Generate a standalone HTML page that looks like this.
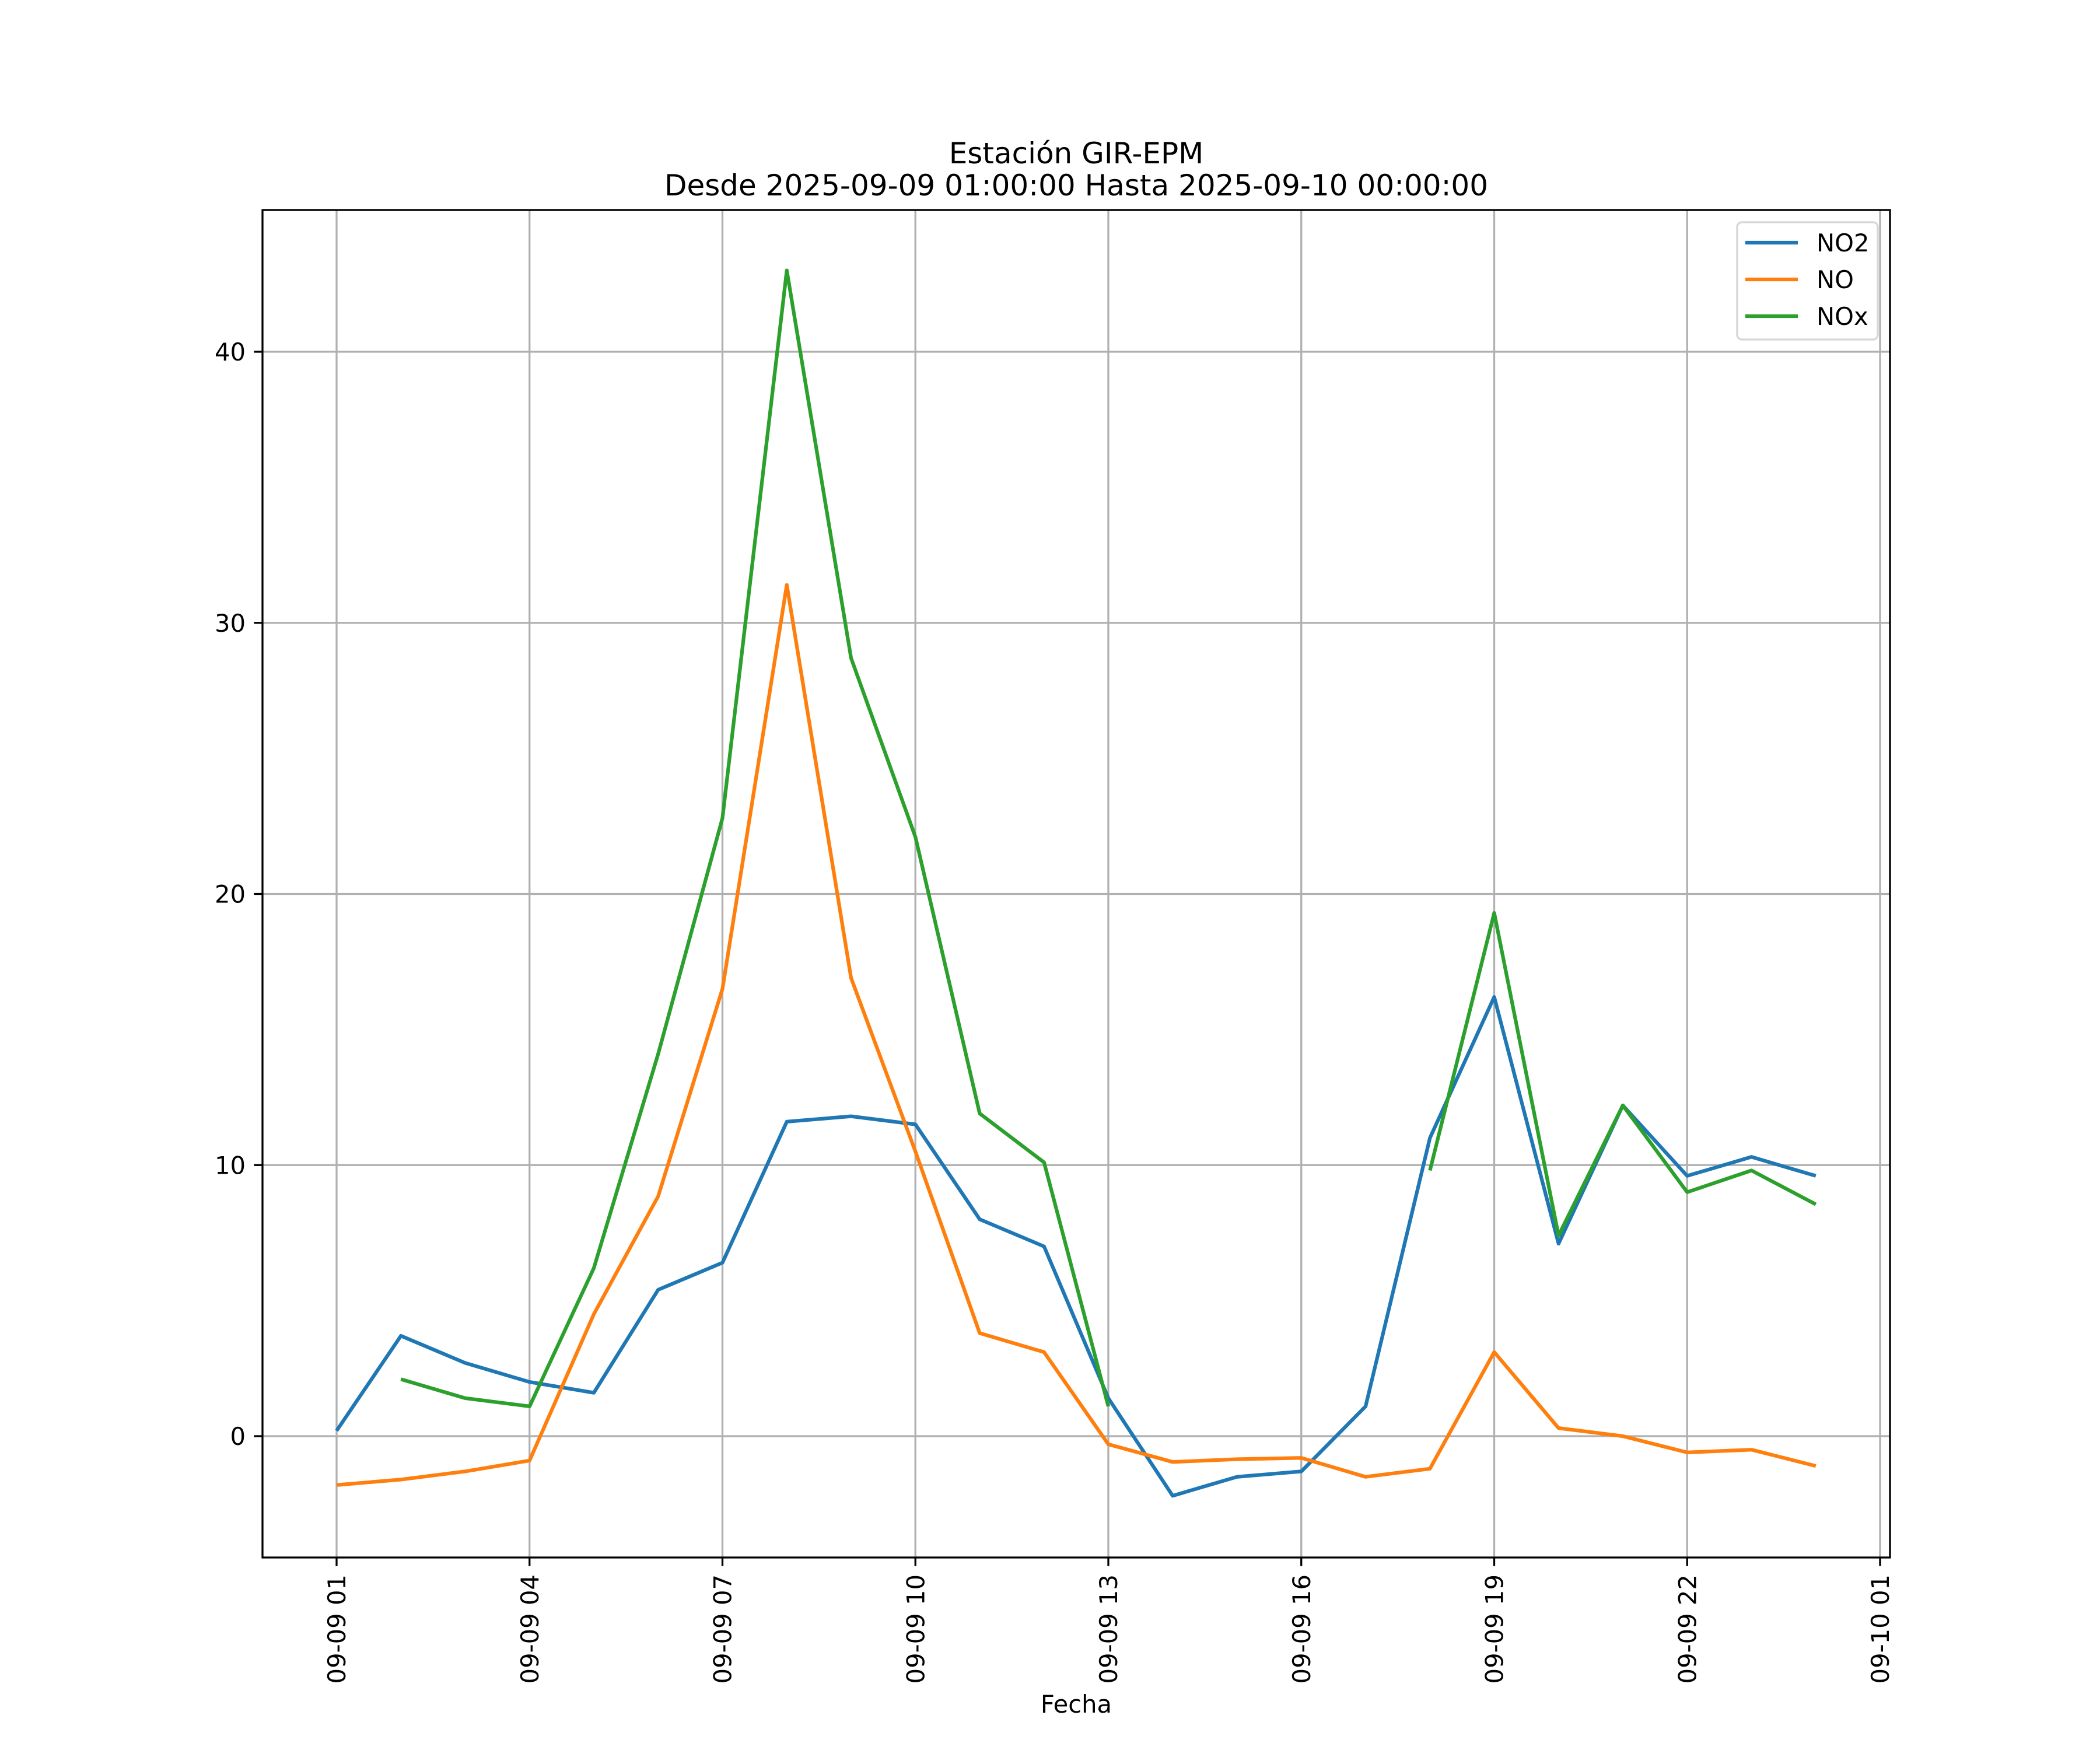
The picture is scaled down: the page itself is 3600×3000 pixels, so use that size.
<!DOCTYPE html>
<html><head><meta charset="utf-8"><style>
html,body{margin:0;padding:0;background:#fff}
svg{display:block}
text{font-family:"DejaVu Sans","Liberation Sans",sans-serif;fill:#000}
</style></head><body>
<svg id="chart" xmlns="http://www.w3.org/2000/svg" width="3600" height="3000" viewBox="0 0 3600 3000">
<rect x="0" y="0" width="3600" height="3000" fill="#fff"/>
<g id="grid"></g>
<g id="series"></g>
<rect x="450" y="360" width="2790" height="2310" fill="none" stroke="#000" stroke-width="3.3"/>
<g id="ticks"></g>
<text x="1845" y="280" font-size="50" text-anchor="middle">Estación GIR-EPM</text>
<text x="1845" y="335" font-size="50" text-anchor="middle">Desde 2025-09-09 01:00:00 Hasta 2025-09-10 00:00:00</text>
<text x="1845" y="2936" font-size="41.7" text-anchor="middle">Fecha</text>
<g id="legend">
<rect x="2978" y="381" width="241" height="201" rx="8" fill="#fff" fill-opacity="0.8" stroke="#d6d6d6" stroke-width="3.3"/>
<line x1="2992" y1="416" x2="3082" y2="416" stroke="#1f77b4" stroke-width="6.25"/>
<text x="3114" y="431" font-size="41.7">NO2</text>
<line x1="2992" y1="479" x2="3082" y2="479" stroke="#ff7f0e" stroke-width="6.25"/>
<text x="3114" y="494" font-size="41.7">NO</text>
<line x1="2992" y1="542" x2="3082" y2="542" stroke="#2ca02c" stroke-width="6.25"/>
<text x="3114" y="557" font-size="41.7">NOx</text>
</g>
</svg>
<script>
const hours = [0,1,2,3,4,5,6,7,8,9,10,11,12,13,14,15,16,17,18,19,20,21,22,23];
const no2 = [0.2,3.7,2.7,2.0,1.6,5.4,6.4,11.6,11.8,11.5,8.0,7.0,1.4,-2.2,-1.5,-1.3,1.1,11.0,16.2,7.1,12.2,9.6,10.3,9.6];
const no = [-1.8,-1.6,-1.3,-0.9,4.5,8.85,16.5,31.4,16.9,10.5,3.8,3.1,-0.3,-0.95,-0.85,-0.8,-1.5,-1.2,3.1,0.3,0.0,-0.6,-0.5,-1.1];
const nox = [null,2.1,1.4,1.1,6.2,14.1,22.8,43.0,28.7,22.1,11.9,10.1,1.1,null,null,null,null,9.8,19.3,7.4,12.2,9.0,9.8,8.55];
const xTickHours = [0,3,6,9,12,15,18,21,24];
const xTickLabels = ["09-09 01","09-09 04","09-09 07","09-09 10","09-09 13","09-09 16","09-09 19","09-09 22","09-10 01"];
const yTicks = [0,10,20,30,40];

const NS = "http://www.w3.org/2000/svg";
const X0 = 577, XPH = 110.25;
const Y0 = 2462, YPU = 46.475;
function xs(h){ return X0 + h*XPH; }
function ys(v){ return Y0 - v*YPU; }
function mk(tag, attrs, parent){
  const e = document.createElementNS(NS, tag);
  for (const k in attrs) e.setAttribute(k, attrs[k]);
  parent.appendChild(e);
  return e;
}
const grid = document.getElementById('grid');
const ticks = document.getElementById('ticks');
const series = document.getElementById('series');

xTickHours.forEach((h,i)=>{
  const x = xs(h);
  const g = mk('line',{x1:x,y1:360,x2:x,y2:2670,stroke:'#b0b0b0','stroke-width':3.3},grid);
  
  
  const t = mk('line',{x1:x,y1:2670,x2:x,y2:2684.6,stroke:'#000','stroke-width':3.3},ticks);
  
  
  const lb = mk('text',{x:0,y:0,'font-size':41.7,'text-anchor':'end',transform:'translate('+(x+15)+',2699) rotate(-90)'},ticks);
  lb.textContent = xTickLabels[i];
  
  
});
yTicks.forEach(v=>{
  const y = ys(v);
  const g = mk('line',{x1:450,y1:y,x2:3240,y2:y,stroke:'#b0b0b0','stroke-width':3.3},grid);
  
  
  const t = mk('line',{x1:435.4,y1:y,x2:450,y2:y,stroke:'#000','stroke-width':3.3},ticks);
  
  
  const lb = mk('text',{x:421,y:y+15,'font-size':41.7,'text-anchor':'end'},ticks);
  lb.textContent = String(v);
  
  
});

function drawSeries(vals, color, name){
  let d = '', pen = false;
  vals.forEach((v,i)=>{
    if (v === null || v === undefined){ pen = false; return; }
    d += (pen ? 'L' : 'M') + xs(hours[i]).toFixed(1) + ' ' + ys(v).toFixed(1) + ' ';
    pen = true;
  });
  const p = mk('path',{d:d,fill:'none',stroke:color,'stroke-width':6.25,'stroke-linejoin':'round','stroke-linecap':'butt'},series);
  
  
}
drawSeries(no2,'#1f77b4','no2-line');
drawSeries(no,'#ff7f0e','no-line');
drawSeries(nox,'#2ca02c','nox-line');
</script>
</body></html>
